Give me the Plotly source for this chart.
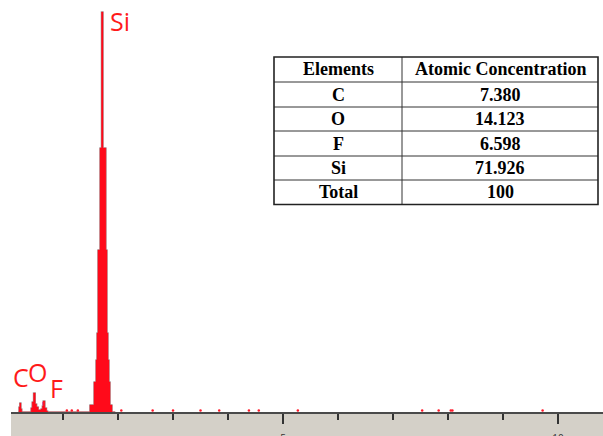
import plotly.graph_objects as go

# ---- spectrum data (energy in keV, counts) ----
spec_energy = [0.19, 0.20, 0.215, 0.235, 0.25,
               0.40, 0.42, 0.44, 0.465, 0.495, 0.52, 0.55, 0.60, 0.625, 0.64, 0.67, 0.70, 0.72,
               1.49, 1.564, 1.60, 1.618, 1.636, 1.673, 1.70, 1.727, 1.78, 1.80, 1.818, 1.836, 1.855, 1.891, 1.95]
spec_counts = [0, 5, 9, 3, 0,
               0, 4, 10, 19, 8, 5, 2, 3, 6, 11, 4, 1, 0,
               7, 30, 52, 79, 162, 264, 400, 264, 162, 79, 52, 30, 7, 0, 0]

fit_energy = [0.215, 0.468, 0.645, 1.713]
fit_counts = [8, 18, 10, 400]

noise_energy = [1.07, 1.16, 1.27, 2.06, 2.63, 3.0, 3.5, 3.84, 4.38, 4.56, 5.27, 7.53, 7.83, 8.05, 8.08, 9.72]
noise_counts = [1.5] * len(noise_energy)

peak_labels = ["C", "O", "F", "Si"]
label_energy = [0.235, 0.53, 0.89, 2.04]
label_counts = [35, 40, 24, 391]

# ---- table data ----
table_header = ["Elements", "Atomic Concentration"]
elements = ["C", "O", "F", "Si", "Total"]
concentration = ["7.380", "14.123", "6.598", "71.926", "100"]

# plot-area geometry helpers (pixels -> paper)
PL, PW, PH = 11, 592, 412
def px(x):
    return (x - PL) / PW
def py(y):
    return 1 - y / PH

fig = go.Figure()

# gray outline
fig.add_trace(go.Scatter(x=spec_energy, y=spec_counts, mode="lines", line_shape="hv",
                         line=dict(color="#a8a8a8", width=1.6), hoverinfo="skip", showlegend=False))
# red fill
fig.add_trace(go.Scatter(x=spec_energy, y=spec_counts, mode="lines", line_shape="hv",
                         fill="tozeroy", fillcolor="#ff0a1a",
                         line=dict(color="#ff0a1a", width=0.5), showlegend=False))
# magenta fit lines
fig.add_trace(go.Bar(x=fit_energy, y=fit_counts, width=0.024,
                     marker=dict(color="#ff14c8", line=dict(width=0)), showlegend=False))
# noise dots
fig.add_trace(go.Scatter(x=noise_energy, y=noise_counts, mode="markers",
                         marker=dict(color="#ff1a2a", size=2.5), showlegend=False))

for lab, e, c in zip(peak_labels, label_energy, label_counts):
    fig.add_annotation(x=e, y=c, text=lab, showarrow=False, xanchor="center", yanchor="middle",
                       borderpad=0, font=dict(family="Open Sans", size=25, color="#ff1a1a"))

# ---- table drawn with shapes + annotations ----
col_edges = [274, 402, 598]
row_edges = [57, 82, 107, 131, 156, 180, 204.5]
rows = [table_header] + [[e, c] for e, c in zip(elements, concentration)]
for r in range(1, len(row_edges) - 1):
    fig.add_shape(type="line", xref="paper", yref="paper",
                  x0=px(col_edges[0]), x1=px(col_edges[-1]), y0=py(row_edges[r]), y1=py(row_edges[r]),
                  line=dict(color="#333", width=1))
fig.add_shape(type="line", xref="paper", yref="paper",
              x0=px(col_edges[1]), x1=px(col_edges[1]), y0=py(row_edges[0]), y1=py(row_edges[-1]),
              line=dict(color="#333", width=1))
fig.add_shape(type="rect", xref="paper", yref="paper",
              x0=px(col_edges[0]), x1=px(col_edges[-1]), y0=py(row_edges[-1]), y1=py(row_edges[0]),
              line=dict(color="#222", width=1.6), fillcolor="rgba(0,0,0,0)")
for r, row in enumerate(rows):
    yc = (row_edges[r] + row_edges[r + 1]) / 2
    for c, txt in enumerate(row):
        xc = (col_edges[c] + col_edges[c + 1]) / 2
        fig.add_annotation(xref="paper", yref="paper", x=px(xc), y=py(yc), text="<b>%s</b>" % txt,
                           showarrow=False, xanchor="center", yanchor="middle", borderpad=0,
                           font=dict(family="Liberation Serif", size=18, color="black"))

# gray band below axis
fig.add_shape(type="rect", xref="paper", yref="paper", x0=0, x1=1, y0=-24 / PH, y1=0,
              fillcolor="#d4d0c8", line=dict(width=0), layer="below")

fig.update_layout(
    width=603, height=436,
    margin=dict(l=PL, r=0, t=0, b=24, autoexpand=False),
    paper_bgcolor="white", plot_bgcolor="white",
    bargap=0,
    xaxis=dict(range=[0.0545, 10.818], showgrid=False, zeroline=False, automargin=False,
               showline=True, linecolor="#4a4a4a", linewidth=1.5,
               tickmode="array", tickvals=[5, 10], ticktext=["5", "10"],
               ticks="outside", ticklen=10, tickwidth=1.5, tickcolor="#333",
               ticklabelstandoff=6,
               tickfont=dict(family="Open Sans", size=10, color="#333"),
               minor=dict(dtick=1, ticks="outside", ticklen=6, tickwidth=1.5,
                          tickcolor="#333", showgrid=False)),
    yaxis=dict(range=[0, PH], visible=False, showgrid=False, zeroline=False),
)

fig.write_html("out.html", config={"displayModeBar": False},
               post_script="document.body.style.margin='0px';")
